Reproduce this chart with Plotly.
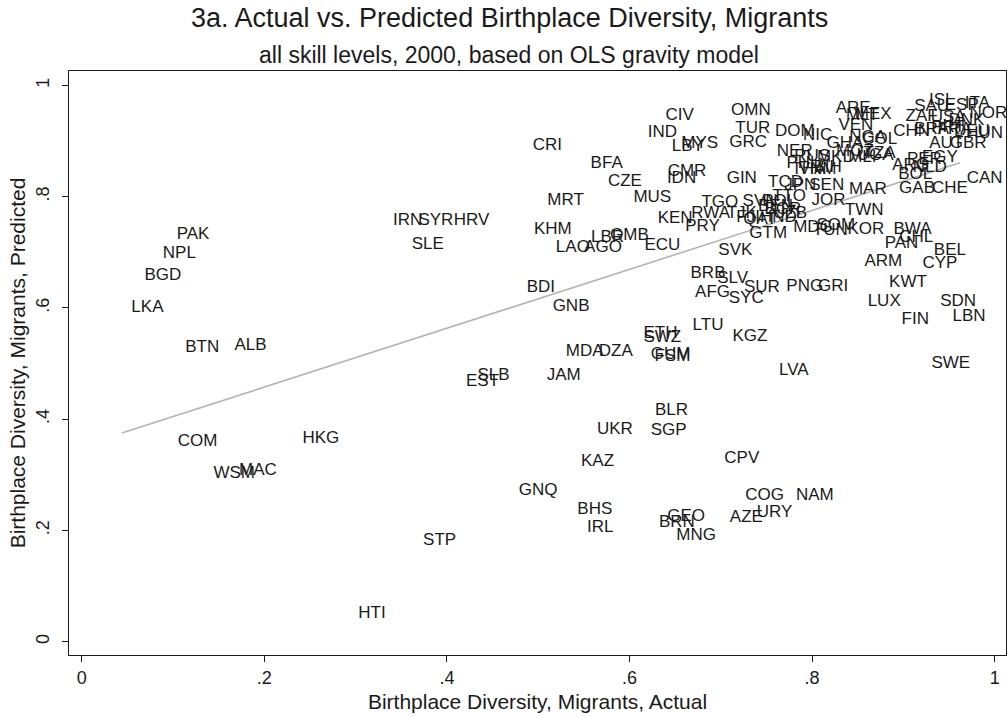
"""
Actual vs. predicted birthplace diversity of migrants (Stata-style scatter with labels).
"""
import plotly.graph_objects as go

# country codes with actual (x) and predicted (y) birthplace diversity
codes = [
    "PAK", "NPL", "BGD", "LKA", "BTN", "ALB", "COM", "WSM", "MAC", "HKG",
    "IRN", "SYR", "HRV", "SLE", "SLB", "EST", "STP", "HTI", "CRI", "BFA",
    "CZE", "MRT", "MUS", "KHM", "LAO", "AGO", "LBR", "GMB", "ECU", "BDI",
    "GNB", "MDA", "DZA", "JAM", "UKR", "KAZ", "GNQ", "BHS", "IRL", "CIV",
    "IND", "LBY", "MYS", "GRC", "OMN", "TUR", "DOM", "IDN", "CMR", "GIN",
    "TGO", "RWA", "KEN", "PRY", "SVN", "SVK", "GTM", "BRB", "SLV", "AFG",
    "SUR", "SYC", "PNG", "GRI", "ETH", "SWZ", "FSM", "GUM", "LTU", "KGZ",
    "LVA", "BLR", "SGP", "CPV", "COG", "NAM", "URY", "AZE", "GEO", "BRN",
    "MNG", "LUX", "FIN", "SDN", "LBN", "SWE", "KWT", "ARM", "CYP", "BEL",
    "PAN", "CHL", "BWA", "TWN", "KOR", "MDG", "SOM", "TUN", "JOR", "MAR",
    "POL", "GAB", "CHE", "CAN", "BOL", "ARG", "PER", "EGY", "NLD", "AUT",
    "GBR", "NOR", "ITA", "ISL", "ESP", "SAU", "ZAF", "USA", "DNK", "CHN",
    "BRA", "FRA", "PRT", "DEU", "HUN", "ARE", "MEX", "MLT", "VEN", "NIC",
    "NGA", "COL", "GHA", "MOZ", "TZA", "MKD", "MLI", "UGA", "NER", "RUS",
    "PHL", "THA", "VNM", "BIH", "SEN", "TCD", "JPN", "TTO", "BEN", "UZB",
    "BGR", "TJK", "FJI", "QAT", "HND",
]
actual = [
    0.122, 0.107, 0.089, 0.072, 0.132, 0.185, 0.127, 0.167, 0.193, 0.262,
    0.357, 0.388, 0.427, 0.379, 0.451, 0.439, 0.392, 0.318, 0.510, 0.575,
    0.595, 0.530, 0.625, 0.516, 0.538, 0.571, 0.576, 0.600, 0.636, 0.503,
    0.536, 0.551, 0.585, 0.528, 0.584, 0.565, 0.500, 0.562, 0.568, 0.655,
    0.636, 0.664, 0.677, 0.730, 0.733, 0.735, 0.781, 0.657, 0.663, 0.723,
    0.699, 0.689, 0.650, 0.680, 0.743, 0.716, 0.752, 0.686, 0.713, 0.691,
    0.745, 0.728, 0.792, 0.823, 0.634, 0.636, 0.647, 0.645, 0.686, 0.732,
    0.780, 0.646, 0.643, 0.723, 0.748, 0.803, 0.759, 0.728, 0.662, 0.652,
    0.673, 0.879, 0.913, 0.960, 0.972, 0.952, 0.905, 0.878, 0.940, 0.951,
    0.898, 0.914, 0.910, 0.857, 0.859, 0.801, 0.826, 0.820, 0.818, 0.861,
    0.764, 0.915, 0.951, 0.989, 0.913, 0.908, 0.923, 0.940, 0.929, 0.947,
    0.971, 0.993, 0.981, 0.942, 0.964, 0.931, 0.920, 0.949, 0.969, 0.909,
    0.931, 0.956, 0.949, 0.975, 0.989, 0.845, 0.867, 0.855, 0.848, 0.806,
    0.861, 0.874, 0.836, 0.847, 0.874, 0.826, 0.855, 0.869, 0.781, 0.800,
    0.790, 0.796, 0.806, 0.817, 0.816, 0.771, 0.787, 0.775, 0.760, 0.776,
    0.768, 0.723, 0.730, 0.743, 0.763,
]
predicted = [
    0.731, 0.697, 0.657, 0.600, 0.528, 0.532, 0.359, 0.301, 0.307, 0.364,
    0.757, 0.757, 0.757, 0.713, 0.478, 0.467, 0.182, 0.050, 0.891, 0.859,
    0.827, 0.792, 0.798, 0.740, 0.709, 0.709, 0.727, 0.730, 0.712, 0.637,
    0.603, 0.521, 0.521, 0.478, 0.381, 0.323, 0.271, 0.237, 0.204, 0.945,
    0.915, 0.889, 0.895, 0.897, 0.954, 0.922, 0.917, 0.832, 0.844, 0.832,
    0.790, 0.769, 0.760, 0.746, 0.791, 0.703, 0.733, 0.662, 0.653, 0.628,
    0.636, 0.617, 0.638, 0.638, 0.553, 0.547, 0.512, 0.516, 0.568, 0.548,
    0.487, 0.415, 0.379, 0.329, 0.262, 0.262, 0.232, 0.222, 0.224, 0.214,
    0.190, 0.612, 0.578, 0.612, 0.585, 0.499, 0.645, 0.683, 0.679, 0.702,
    0.716, 0.727, 0.740, 0.774, 0.740, 0.744, 0.748, 0.739, 0.792, 0.812,
    0.791, 0.815, 0.815, 0.832, 0.840, 0.855, 0.866, 0.870, 0.852, 0.895,
    0.895, 0.950, 0.968, 0.972, 0.963, 0.961, 0.944, 0.942, 0.937, 0.917,
    0.920, 0.920, 0.924, 0.917, 0.913, 0.958, 0.947, 0.945, 0.927, 0.909,
    0.906, 0.902, 0.896, 0.881, 0.877, 0.870, 0.870, 0.873, 0.881, 0.872,
    0.860, 0.849, 0.849, 0.852, 0.820, 0.825, 0.820, 0.800, 0.782, 0.769,
    0.776, 0.769, 0.762, 0.758, 0.762,
]

# fitted line
fit_x = [0.044, 0.962]
fit_y = [0.375, 0.861]

x_ticks = [0, 0.2, 0.4, 0.6, 0.8, 1]
x_tick_labels = ["0", ".2", ".4", ".6", ".8", "1"]
y_ticks = [0, 0.2, 0.4, 0.6, 0.8, 1]
y_tick_labels = ["0", ".2", ".4", ".6", ".8", "1"]

FONT = "Helvetica, Arial, Liberation Sans, sans-serif"
INK = "#1a1a1a"

fig = go.Figure()

fig.add_trace(
    go.Scatter(
        x=fit_x,
        y=fit_y,
        mode="lines",
        line=dict(color="#b4b4b4", width=1.6),
        hoverinfo="skip",
        showlegend=False,
    )
)

fig.add_trace(
    go.Scatter(
        x=actual,
        y=predicted,
        mode="text",
        text=codes,
        textposition="middle center",
        textfont=dict(family=FONT, size=17, color=INK),
        showlegend=False,
    )
)

axis_common = dict(
    showgrid=False,
    zeroline=False,
    showline=True,
    linecolor=INK,
    linewidth=1.3,
    mirror=True,
    ticks="outside",
    ticklen=6,
    tickwidth=1,
    tickcolor=INK,
    tickfont=dict(family=FONT, size=18, color=INK),
)

fig.update_layout(
    width=1008,
    height=717,
    plot_bgcolor="white",
    paper_bgcolor="white",
    font=dict(family=FONT, color=INK),
    margin=dict(l=69, r=2, t=71, b=62),
    xaxis=dict(
        range=[-0.0139, 1.0124],
        tickvals=x_ticks,
        ticktext=x_tick_labels,
        title=dict(text="Birthplace Diversity, Migrants, Actual",
                   font=dict(family=FONT, size=21, color=INK), standoff=7),
        **axis_common,
    ),
    yaxis=dict(
        range=[-0.024, 1.026],
        tickvals=y_ticks,
        ticktext=y_tick_labels,
        tickangle=-90,
        ticklabelstandoff=6,
        title=dict(text="Birthplace Diversity, Migrants, Predicted",
                   font=dict(family=FONT, size=21, color=INK), standoff=1),
        **axis_common,
    ),
    annotations=[
        dict(text="3a. Actual vs. Predicted Birthplace Diversity, Migrants",
             xref="paper", yref="paper", x=0.4696, y=1.0908,
             xanchor="center", yanchor="middle", showarrow=False,
             font=dict(family=FONT, size=27, color=INK)),
        dict(text="all skill levels, 2000, based on OLS gravity model",
             xref="paper", yref="paper", x=0.4696, y=1.0274,
             xanchor="center", yanchor="middle", showarrow=False,
             font=dict(family=FONT, size=23, color=INK)),
    ],
)

fig.write_html(
    "out.html",
    config={"displayModeBar": False},
    post_script="document.body.style.margin='0';document.body.style.overflow='hidden';",
)
